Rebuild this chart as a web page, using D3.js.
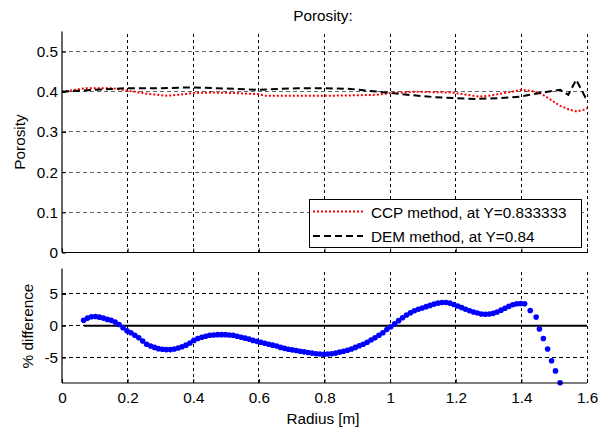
<!DOCTYPE html>
<html>
<head>
<meta charset="utf-8">
<script src="https://cdn.jsdelivr.net/npm/d3@7"></script>
<style>
  body { margin: 0; background: #fff; }
  svg { font-family: "Liberation Sans", Arial, sans-serif; }
</style>
</head>
<body>
<div id="chart"></div>
<script>
// Porosity along radius (top panel)
const ccpRadius = [0, 0.04, 0.075, 0.15, 0.2, 0.26, 0.32, 0.36, 0.4, 0.46, 0.52, 0.6, 0.62, 0.72, 0.8, 0.88, 0.96, 1.0, 1.08, 1.19, 1.23, 1.27, 1.3, 1.335, 1.37, 1.4, 1.43, 1.457, 1.49, 1.518, 1.545, 1.569, 1.59, 1.6];
const ccpPorosity = [0.400, 0.405, 0.409, 0.409, 0.403, 0.395, 0.390, 0.393, 0.397, 0.398, 0.397, 0.394, 0.390, 0.390, 0.390, 0.391, 0.3925, 0.397, 0.400, 0.398, 0.393, 0.388, 0.390, 0.395, 0.400, 0.405, 0.402, 0.397, 0.380, 0.365, 0.356, 0.351, 0.355, 0.359];

const demRadius = [0, 0.1, 0.2, 0.3, 0.4, 0.5, 0.6, 0.72, 0.8, 0.88, 0.94, 1.0, 1.06, 1.13, 1.2, 1.26, 1.33, 1.396, 1.457, 1.518, 1.543, 1.567, 1.594, 1.6];
const demPorosity = [0.400, 0.405, 0.409, 0.409, 0.411, 0.408, 0.405, 0.409, 0.409, 0.407, 0.402, 0.397, 0.392, 0.387, 0.384, 0.382, 0.384, 0.388, 0.397, 0.405, 0.3925, 0.430, 0.388, 0.400];

// Percent difference (bottom panel)
const diffRadius = [0.066, 0.078, 0.090, 0.102, 0.114, 0.126, 0.138, 0.150, 0.162, 0.174, 0.186, 0.198, 0.210, 0.222, 0.234, 0.246, 0.258, 0.270, 0.282, 0.294, 0.306, 0.318, 0.330, 0.342, 0.354, 0.366, 0.378, 0.390, 0.402, 0.414, 0.426, 0.438, 0.450, 0.462, 0.474, 0.486, 0.498, 0.510, 0.522, 0.534, 0.546, 0.558, 0.570, 0.582, 0.594, 0.606, 0.618, 0.630, 0.642, 0.654, 0.666, 0.678, 0.690, 0.702, 0.714, 0.726, 0.738, 0.750, 0.762, 0.774, 0.786, 0.798, 0.810, 0.822, 0.834, 0.846, 0.858, 0.870, 0.882, 0.894, 0.906, 0.918, 0.930, 0.942, 0.954, 0.966, 0.978, 0.990, 1.002, 1.014, 1.026, 1.038, 1.050, 1.062, 1.074, 1.086, 1.098, 1.110, 1.122, 1.134, 1.146, 1.158, 1.170, 1.182, 1.194, 1.206, 1.218, 1.230, 1.242, 1.254, 1.266, 1.278, 1.290, 1.302, 1.314, 1.326, 1.338, 1.350, 1.362, 1.374, 1.386, 1.398, 1.410, 1.427, 1.445, 1.455, 1.467, 1.480, 1.492, 1.504, 1.518];
const diffPct = [0.85, 1.2, 1.4, 1.45, 1.35, 1.2, 1.0, 0.85, 0.6, 0.2, -0.3, -0.8, -1.1, -1.5, -1.9, -2.4, -2.9, -3.2, -3.4, -3.6, -3.7, -3.75, -3.75, -3.65, -3.5, -3.3, -3.05, -2.7, -2.3, -2.0, -1.8, -1.65, -1.5, -1.45, -1.4, -1.4, -1.4, -1.45, -1.5, -1.65, -1.8, -1.95, -2.1, -2.3, -2.45, -2.6, -2.75, -2.9, -3.05, -3.2, -3.4, -3.55, -3.7, -3.8, -3.9, -4.0, -4.1, -4.2, -4.3, -4.4, -4.45, -4.5, -4.45, -4.4, -4.3, -4.15, -4.0, -3.85, -3.65, -3.4, -3.15, -2.9, -2.6, -2.25, -1.9, -1.5, -1.1, -0.6, -0.15, 0.3, 0.8, 1.25, 1.7, 2.05, 2.35, 2.6, 2.8, 3.0, 3.2, 3.4, 3.55, 3.65, 3.65, 3.55, 3.35, 3.1, 2.85, 2.6, 2.35, 2.15, 2.0, 1.85, 1.8, 1.85, 1.95, 2.15, 2.45, 2.75, 3.05, 3.3, 3.45, 3.5, 3.45, 2.4, 1.36, -0.5, -2.0, -3.65, -5.5, -7.1, -8.95];
const zeroLineRadius = [0.066, 1.6];

const xTicks = [0, 0.2, 0.4, 0.6, 0.8, 1, 1.2, 1.4, 1.6];
const topYTicks = [0, 0.1, 0.2, 0.3, 0.4, 0.5];
const bottomYTicks = [-5, 0, 5];
const legendLabels = ["CCP method, at Y=0.833333", "DEM method, at Y=0.84"];

const width = 598, height = 430;
const left = 62, right = 587;
const fs = 15.3;

const svg = d3.select("#chart").append("svg")
    .attr("width", width)
    .attr("height", height);

const x = d3.scaleLinear().domain([0, 1.6]).range([left, right]);
const yTop = d3.scaleLinear().domain([0, 0.55]).range([252.5, 31.5]);
const yBot = d3.scaleLinear().domain([-9, 9]).range([383, 268.5]);

function grid(yScale, yTicks, hColor) {
  const [y0, y1] = yScale.range();
  svg.append("g").selectAll("line.v")
    .data(xTicks.slice(1))
    .enter().append("line")
    .attr("x1", d => x(d)).attr("x2", d => x(d))
    .attr("y1", y0).attr("y2", y1)
    .attr("stroke", "#000").attr("stroke-width", 1)
    .attr("stroke-dasharray", "3,3")
    .attr("shape-rendering", "crispEdges");
  svg.append("g").selectAll("line.h")
    .data(yTicks.filter(d => yScale(d) > y1 + 1 && yScale(d) < y0 - 1))
    .enter().append("line")
    .attr("x1", left).attr("x2", right)
    .attr("y1", d => yScale(d)).attr("y2", d => yScale(d))
    .attr("stroke", hColor).attr("stroke-width", 1)
    .attr("stroke-dasharray", "4,3")
    .attr("shape-rendering", "crispEdges");
}

function axes(yScale, yTicks, showX) {
  const [y0, y1] = yScale.range();
  const yAxis = d3.axisLeft(yScale).tickValues(yTicks).tickSize(-4).tickPadding(4)
    .tickFormat(d => String(d));
  const ga = svg.append("g").attr("transform", `translate(${left},0)`).call(yAxis);
  ga.select(".domain").remove();
  ga.selectAll("text").attr("font-size", fs).attr("fill", "#000")
    .attr("font-family", "Liberation Sans, Arial, sans-serif");
  ga.selectAll("line").attr("stroke", "#000");
  svg.append("line").attr("x1", left).attr("x2", left).attr("y1", y0).attr("y2", y1)
    .attr("stroke", "#000").attr("stroke-width", 1.2);

  const xAxis = d3.axisBottom(x).tickValues(xTicks).tickSize(-4).tickPadding(9)
    .tickFormat(d => showX ? String(d) : "");
  const gx = svg.append("g").attr("transform", `translate(0,${y0})`).call(xAxis);
  gx.select(".domain").remove();
  gx.selectAll("text").attr("font-size", fs).attr("fill", "#000")
    .attr("font-family", "Liberation Sans, Arial, sans-serif");
  gx.selectAll("line").attr("stroke", "#000");
  svg.append("line").attr("x1", left).attr("x2", right).attr("y1", y0).attr("y2", y0)
    .attr("stroke", "#000").attr("stroke-width", 1.2);
}

// Top panel
grid(yTop, topYTicks, "#666");

const lineTop = d3.line().x(d => x(d[0])).y(d => yTop(d[1]));
svg.append("path")
  .datum(ccpRadius.map((r, i) => [r, ccpPorosity[i]]))
  .attr("d", lineTop)
  .attr("fill", "none").attr("stroke", "#ff0000").attr("stroke-width", 2)
  .attr("stroke-dasharray", "2,2");
svg.append("path")
  .datum(demRadius.map((r, i) => [r, demPorosity[i]]))
  .attr("d", lineTop)
  .attr("fill", "none").attr("stroke", "#000").attr("stroke-width", 2)
  .attr("stroke-dasharray", "7,4");

axes(yTop, topYTicks, false);

svg.append("text").attr("x", 323).attr("y", 21).attr("text-anchor", "middle")
  .attr("font-size", fs).text("Porosity:");
svg.append("text").attr("transform", `translate(25,142) rotate(-90)`)
  .attr("text-anchor", "middle").attr("font-size", fs).text("Porosity");

// Legend
const lg = svg.append("g");
lg.append("rect").attr("x", 309.5).attr("y", 199.5).attr("width", 272).attr("height", 48)
  .attr("fill", "#fff").attr("stroke", "#000").attr("stroke-width", 1);
const legendStyles = [
  { stroke: "#ff0000", dash: "2,2" },
  { stroke: "#000", dash: "7,4" }
];
legendLabels.forEach((label, i) => {
  const ly = 211.5 + i * 24.5;
  lg.append("line").attr("x1", 313).attr("x2", 363).attr("y1", ly).attr("y2", ly)
    .attr("stroke", legendStyles[i].stroke).attr("stroke-width", 2)
    .attr("stroke-dasharray", legendStyles[i].dash);
  lg.append("text").attr("x", 371).attr("y", ly + 6).attr("font-size", fs).text(label);
});

// Bottom panel
grid(yBot, bottomYTicks, "#000");
svg.append("path")
  .datum(zeroLineRadius.map(r => [r, 0]))
  .attr("d", d3.line().x(d => x(d[0])).y(d => yBot(d[1])))
  .attr("stroke", "#000").attr("stroke-width", 2).attr("fill", "none");

svg.append("g").selectAll("circle")
  .data(diffRadius.map((r, i) => [r, diffPct[i]]))
  .enter().append("circle")
  .attr("cx", d => x(d[0])).attr("cy", d => yBot(d[1]))
  .attr("r", 2.8).attr("fill", "#0000ff");

axes(yBot, bottomYTicks, true);

svg.append("text").attr("x", 323).attr("y", 424).attr("text-anchor", "middle")
  .attr("font-size", fs).text("Radius [m]");
svg.append("text").attr("transform", `translate(33,326) rotate(-90)`)
  .attr("text-anchor", "middle").attr("font-size", fs).text("% difference");
</script>
</body>
</html>
